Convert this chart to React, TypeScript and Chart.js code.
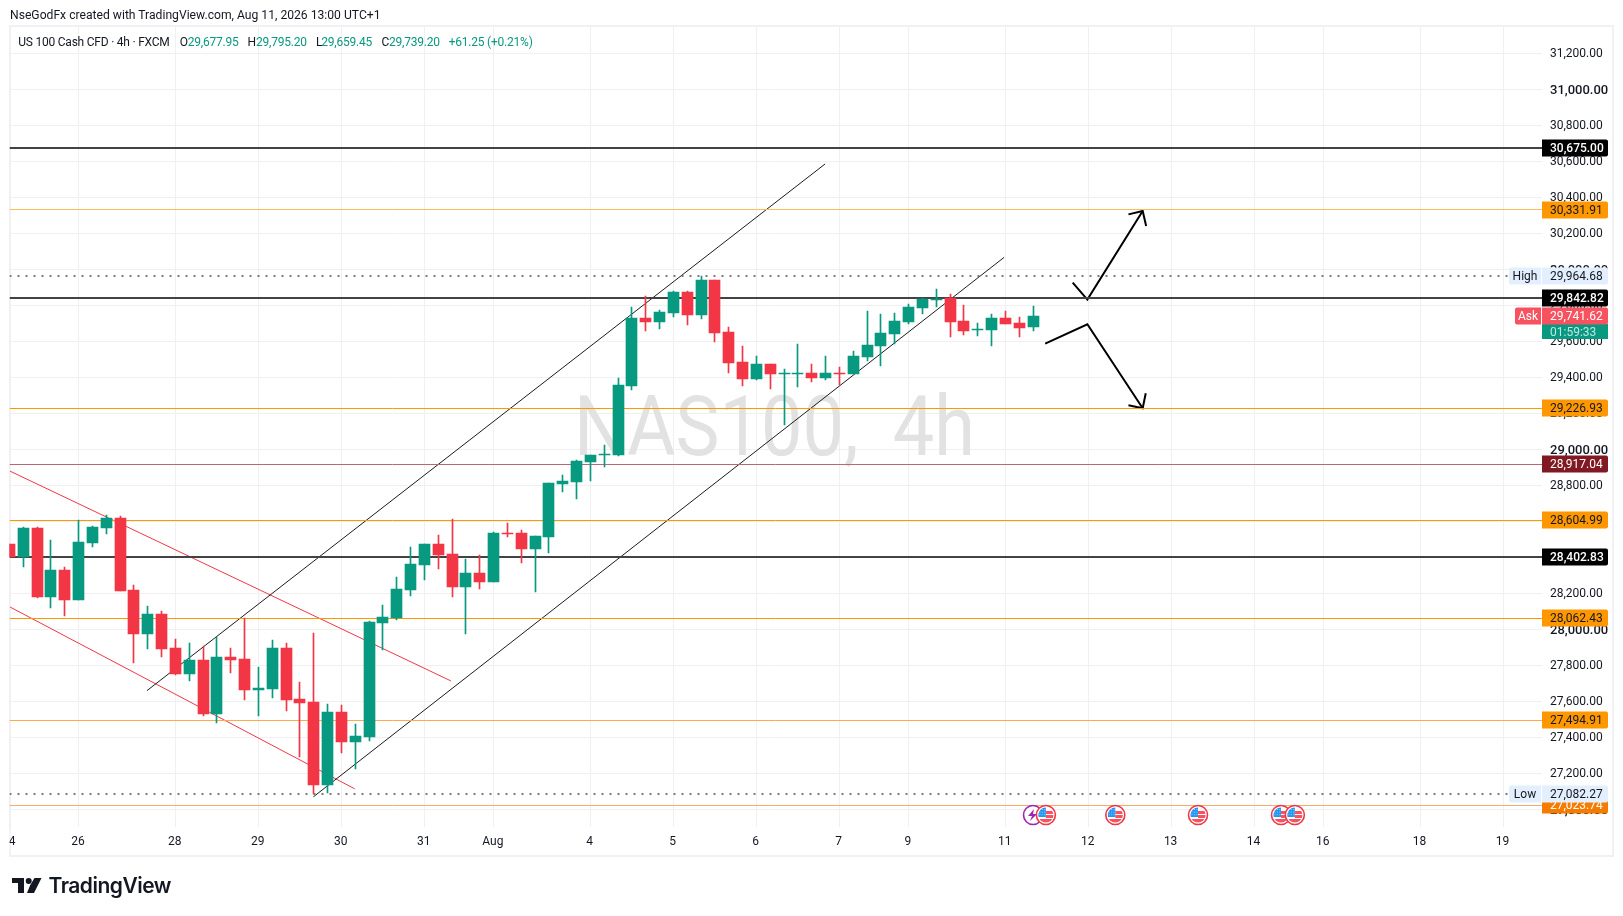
import React, { useEffect, useRef } from "react";
import { Chart, registerables } from "chart.js";

Chart.register(...registerables);

const opens = [28473,28401.3,28562,28179,28329,28163,28479,28562,28618,28218.2,27974,28085,27896.2,27752,27830,27530,27846,27835.2,27663,27668.7,27896,27613.1,27596.5,27136,27541,27374.5,27402.2,28035,28062.7,28218.1,28356.9,28473.4,28418,28234.8,28312.4,28262.5,28534.5,28534.5,28445.7,28512.3,28806.4,28817.5,28928.6,28967.4,28967.4,29350.4,29727.8,29705.6,29755.6,29872,29744.5,29938.7,29650.1,29483.6,29389.2,29472.5,29417,29417,29422.5,29394.8,29422.5,29417,29511.4,29572.4,29639,29705.6,29783.3,29827.7,29838.8,29711.2,29661.2,29661.2,29727.8,29700,29677.95];
const highs = [28473,28567.8,28568,28495.7,28345.8,28606.7,28573.4,28634.4,28628.9,28245.9,28129.4,28101.6,27946,27924,27907.3,27957.3,27896.2,28062.8,27790.8,27940.6,27924,27707.5,27979.4,27585.4,27579.8,27474.4,28046,28134.8,28290.3,28456.8,28473.4,28523.4,28612.2,28390.2,28412.4,28540,28590,28551.2,28517.8,28812,28856.4,28939.7,28967.4,29023,29394.8,29788.9,29849.9,29772.2,29877.7,29877.7,29964.68,29938.7,29677.9,29572.4,29516.9,29472.5,29444.7,29583.5,29472.5,29516.9,29455.8,29544.7,29766.7,29750,29755.6,29805.5,29838.8,29888.8,29861,29800,29700,29750,29766.7,29733.4,29795.2];
const lows = [28401,28345.8,28173.8,28118.3,28073.9,28163,28456.8,28529,28213,27813,27890.7,27846.3,27746.4,27713,27518.8,27480,27757.5,27607.6,27518.8,27618.7,27546.6,27291.2,27082.27,27091.4,27313.4,27224.6,27380,27885.1,28051.6,28184.8,28273.6,28334.7,28179.3,27972,28223.7,28262.5,28512.3,28367.9,28207,28423.5,28762,28723.2,28823.1,28900.8,28961.9,29328.2,29655.7,29666.8,29733.4,29689,29722.3,29594.6,29422.5,29350.4,29383.7,29333.7,29133.9,29344.8,29372.6,29383.7,29355.9,29417,29489.2,29461.4,29583.5,29694.5,29750,29788.9,29622.4,29633.5,29627.9,29572.4,29694.5,29622.4,29659.45];
const closes = [28401,28562.3,28179.3,28329.2,28162.7,28484.6,28567.8,28617.8,28212.6,27974,28085,27891,27752,27829.6,27530,27846.3,27830,27663.1,27674.2,27896.2,27607.6,27590.9,27135.8,27540.9,27374.5,27407.8,28040.5,28068.2,28223.7,28362.4,28473.4,28412.4,28234.8,28312.4,28262.5,28534.5,28529,28445.7,28517.8,28812,28823.1,28934.1,28967.4,28973,29355.9,29727.8,29705.6,29761.1,29872.1,29744.5,29938.7,29644.6,29478,29389.2,29472.5,29417,29422.5,29422.5,29394.8,29422.5,29417,29516.9,29578,29644.6,29711.2,29788.9,29833.3,29833.3,29705.6,29655.7,29666.8,29727.8,29694.5,29672.3,29739.2];

const dateLabels = ["24","26","28","29","30","31","Aug","4","5","6","7","9","11","12","13","14","16","18","19"];
const dateBars = [0,5,12,18,24,30,35,42,48,54,60,65,72,78,84,90,95,102,108];

const priceTicks = [27000,27200,27400,27600,27800,28000,28200,28400,28600,28800,29000,29200,29400,29600,29800,30000,30200,30400,30600,30800,31000,31200];

const blackLevels = [30675, 29842.82, 28402.83];
const orangeLevels = [29226.93, 28604.99, 28062.43];
const paleOrangeLevels = [30331.91];
const softOrangeLevels = [27494.91];
const deepOrangeLevels = [27023.74];
const maroonLevels = [28917.04];
const highLevel = 29964.68;
const lowLevel = 27082.27;
const askPrice = 29741.62;
const countdown = "01:59:33";

const channelUpperA = [[9.94, 27659.2], [58.97, 30585.4]];
const channelLowerA = [[21.97, 27069.2], [71.91, 30066.4]];
const wedgeUpper = [[0.04, 28878.6], [31.92, 27713]];
const wedgeLower = [[0.04, 28123.8], [24.96, 27113.6]];

const arrowUp = [[76.87, 29925.8], [77.93, 29831.5], [81.93, 30323.6]];
const arrowUpHead = [[80.9, 30305.1], [81.93, 30323.6], [82.18, 30240.3]];
const arrowDown = [[74.88, 29587.3], [77.93, 29694.5], [81.93, 29228.4]];
const arrowDownHead = [[80.9, 29245], [81.93, 29228.4], [82.15, 29311.6]];

const flagEventBars = [74.93, 79.95, 85.93, 91.93, 92.93];
const lightningEventBars = [74];

const xMin = 0;
const xMax = 110.8;
const yMin = 26901.7;
const yMax = 31346.1;

const UP = "#089981";
const DOWN = "#f23645";
const FONT = "Roboto, 'Open Sans', sans-serif";

const pts = (a: number[][]) => a.map(([x, y]) => ({ x, y }));
const hline = (v: number) => [{ x: xMin, y: v }, { x: xMax, y: v }];

function lineDs(data: any[], color: string, width: number, dash: number[] = [], snap = false) {
  return {
    type: "line" as const,
    data,
    borderColor: color,
    backgroundColor: color,
    borderWidth: width,
    borderDash: dash,
    borderCapStyle: "butt",
    pointRadius: 0,
    tension: 0,
    fill: false,
    order: 5,
    snap,
  };
}

function priceLabel(ctx: any, y: number, text: string, bg: string, fg: string, weight = 400) {
  ctx.fillStyle = bg;
  ctx.beginPath();
  ctx.roundRect(1542, Math.round(y) - 8.5, 66, 17, [0, 2, 2, 0]);
  ctx.fill();
  ctx.fillStyle = fg;
  ctx.font = `${weight} 12px ${FONT}`;
  ctx.textAlign = "left";
  ctx.textBaseline = "middle";
  ctx.fillText(text, 1550, Math.round(y) + 1);
}

function tagLabel(ctx: any, y: number, x: number, text: string, bg: string, fg: string) {
  ctx.fillStyle = bg;
  ctx.beginPath();
  ctx.roundRect(x, Math.round(y) - 8.5, 1541 - x, 17, [2, 0, 0, 2]);
  ctx.fill();
  ctx.fillStyle = fg;
  ctx.font = `400 12px ${FONT}`;
  ctx.textAlign = "center";
  ctx.textBaseline = "middle";
  ctx.fillText(text, (x + 1541) / 2, Math.round(y) + 1);
}

const fmt = (v: number) => v.toLocaleString("en-US", { minimumFractionDigits: 2, maximumFractionDigits: 2 });

function drawFlag(ctx: any, cx: number, cy: number) {
  ctx.save();
  ctx.beginPath();
  ctx.arc(cx, cy, 9.5, 0, Math.PI * 2);
  ctx.fillStyle = "#ffffff";
  ctx.fill();
  ctx.lineWidth = 1.6;
  ctx.strokeStyle = DOWN;
  ctx.stroke();
  ctx.beginPath();
  ctx.arc(cx, cy, 7.6, 0, Math.PI * 2);
  ctx.clip();
  ctx.fillStyle = "#f7525f";
  ctx.fillRect(cx, cy - 4, 9, 3);
  ctx.fillRect(cx, cy + 0, 9, 3);
  ctx.fillRect(cx - 9, cy + 4, 18, 5);
  ctx.fillStyle = "#2196f3";
  ctx.fillRect(cx - 8, cy - 8, 8, 10);
  ctx.fillStyle = "rgba(255,255,255,0.55)";
  for (let i = 0; i < 3; i++) {
    for (let j = 0; j < 3; j++) {
      ctx.fillRect(cx - 6.5 + i * 2.4, cy - 6 + j * 2.6, 1, 1);
    }
  }
  ctx.restore();
}

function drawLightning(ctx: any, cx: number, cy: number) {
  ctx.save();
  ctx.beginPath();
  ctx.arc(cx, cy, 9.5, 0, Math.PI * 2);
  ctx.fillStyle = "#ffffff";
  ctx.fill();
  ctx.lineWidth = 1.6;
  ctx.strokeStyle = "#9c27b0";
  ctx.stroke();
  ctx.fillStyle = "#9c27b0";
  ctx.beginPath();
  ctx.moveTo(cx + 1, cy - 6);
  ctx.lineTo(cx - 5, cy + 1);
  ctx.lineTo(cx - 1, cy + 1);
  ctx.lineTo(cx - 3, cy + 6);
  ctx.lineTo(cx + 4, cy - 1);
  ctx.lineTo(cx, cy - 1);
  ctx.closePath();
  ctx.fill();
  ctx.restore();
}

const chrome = {
  id: "chrome",
  afterDatasetsUpdate(chart: any) {
    chart.data.datasets.forEach((ds: any, n: number) => {
      const meta = chart.getDatasetMeta(n);
      if (meta.type === "bar") {
        meta.data.forEach((el: any) => {
          el.x = Math.floor(el.x) + 0.5;
          const a = Math.round(el.y);
          let b = Math.round(el.base);
          if (a === b) b = a + 1;
          el.y = a;
          el.base = b;
          el.height = b - a;
        });
      } else if (ds.snap) {
        const odd = ds.borderWidth % 2 === 1;
        meta.data.forEach((el: any) => {
          el.y = odd ? Math.floor(el.y) + 0.5 : Math.round(el.y);
        });
      }
    });
  },
  beforeDraw(chart: any) {
    const { ctx } = chart;
    ctx.save();
    ctx.fillStyle = "#ffffff";
    ctx.fillRect(0, 0, 1623, 916);
    ctx.strokeStyle = "#f1f1f3";
    ctx.lineWidth = 2;
    ctx.strokeRect(10, 26, 1603, 830);
    ctx.restore();
  },
  beforeDatasetsDraw(chart: any) {
    const { ctx } = chart;
    ctx.save();
    ctx.fillStyle = "#e2e2e2";
    ctx.font = `400 83px ${FONT}`;
    ctx.textAlign = "left";
    ctx.textBaseline = "alphabetic";
    ctx.wordSpacing = "18px";
    const t = "NAS100, 4h";
    const w = ctx.measureText(t).width;
    ctx.translate(574, 455);
    ctx.scale(401 / w, 1);
    ctx.fillText(t, 0, 0);
    ctx.restore();
  },
  afterDraw(chart: any) {
    const { ctx, scales } = chart;
    const y = scales.y;
    const x = scales.x;
    ctx.save();
    ctx.fillStyle = "#ffffff";
    ctx.fillRect(0, 830, 9.5, 22);

    paleOrangeLevels.forEach((v) => priceLabel(ctx, y.getPixelForValue(v), fmt(v), "#ff9800", "#131722"));
    orangeLevels.forEach((v) => priceLabel(ctx, y.getPixelForValue(v), fmt(v), "#ff9800", "#131722"));
    softOrangeLevels.forEach((v) => priceLabel(ctx, y.getPixelForValue(v), fmt(v), "#ff9800", "#131722"));
    maroonLevels.forEach((v) => priceLabel(ctx, y.getPixelForValue(v), fmt(v), "#801922", "#ffffff"));
    deepOrangeLevels.forEach((v) => priceLabel(ctx, y.getPixelForValue(v), fmt(v), "#f57c00", "#ffffff"));
    blackLevels.forEach((v) => priceLabel(ctx, y.getPixelForValue(v), fmt(v), "#000000", "#ffffff", 500));

    const hy = y.getPixelForValue(highLevel);
    tagLabel(ctx, hy, 1509, "High", "#e3effd", "#131722");
    priceLabel(ctx, hy, fmt(highLevel), "#e3effd", "#131722");
    const ly = y.getPixelForValue(lowLevel);
    tagLabel(ctx, ly, 1509, "Low", "#e3effd", "#131722");
    priceLabel(ctx, ly, fmt(lowLevel), "#e3effd", "#131722");

    const ay = y.getPixelForValue(askPrice);
    ctx.fillStyle = UP;
    ctx.fillRect(1542, Math.round(ay) + 8, 66, 15);
    ctx.fillStyle = "rgba(255,255,255,0.75)";
    ctx.font = `400 12px ${FONT}`;
    ctx.textAlign = "left";
    ctx.textBaseline = "middle";
    ctx.fillText(countdown, 1550, Math.round(ay) + 16.5);
    tagLabel(ctx, ay, 1515, "Ask", "#f7525f", "#ffffff");
    priceLabel(ctx, ay, fmt(askPrice), "#f7525f", "#ffffff");

    lightningEventBars.forEach((b) => drawLightning(ctx, x.getPixelForValue(b), 815));
    flagEventBars.forEach((b) => drawFlag(ctx, x.getPixelForValue(b), 815));
    ctx.restore();
  },
};

const textStyle: React.CSSProperties = {
  position: "absolute",
  fontFamily: FONT,
  whiteSpace: "nowrap",
  lineHeight: "16px",
  color: "#131722",
};

const legendParts: [string, number, string][] = [
  ["US 100 Cash CFD · 4h · FXCM", 18.2, "#131722"],
  ["O", 179.8, "#131722"],
  ["29,677.95", 187.7, UP],
  ["H", 247.6, "#131722"],
  ["29,795.20", 256, UP],
  ["L", 316, "#131722"],
  ["29,659.45", 321.3, UP],
  ["C", 381.5, "#131722"],
  ["29,739.20", 389, UP],
  ["+61.25 (+0.21%)", 448.7, UP],
];

export default function App() {
  const ref = useRef<HTMLCanvasElement | null>(null);

  useEffect(() => {
    document.body.style.margin = "0";
    document.body.style.background = "#ffffff";
    const idx = opens.map((_, i) => i);
    const colors = idx.map((i) => (closes[i] >= opens[i] ? UP : DOWN));

    const chart = new Chart(ref.current as HTMLCanvasElement, {
      type: "bar",
      plugins: [chrome],
      data: {
        datasets: [
          {
            data: idx.map((i) => ({ x: i, y: [opens[i], closes[i]] })),
            backgroundColor: colors,
            barThickness: 11,
            minBarLength: 1,
            grouped: false,
            order: 1,
          },
          {
            data: idx.map((i) => ({ x: i, y: [lows[i], highs[i]] })),
            backgroundColor: colors,
            barThickness: 1,
            grouped: false,
            order: 2,
          },
          ...blackLevels.map((v) => lineDs(hline(v), "#434343", 2, [], true)),
          ...orangeLevels.map((v) => lineDs(hline(v), "#ff9800", 1, [], true)),
          ...paleOrangeLevels.map((v) => lineDs(hline(v), "#ffbb5c", 1, [], true)),
          ...softOrangeLevels.map((v) => lineDs(hline(v), "#ffa94d", 1, [], true)),
          ...deepOrangeLevels.map((v) => lineDs(hline(v), "#f7ab6e", 1, [], true)),
          ...maroonLevels.map((v) => lineDs(hline(v), "#b96770", 1, [], true)),
          lineDs(hline(highLevel), "#7a7a7a", 2, [2, 6], true),
          lineDs(hline(lowLevel), "#7a7a7a", 2, [2, 6], true),
          lineDs(pts(channelUpperA), "#1c1c1c", 1),
          lineDs(pts(channelLowerA), "#1c1c1c", 1),
          lineDs(pts(wedgeUpper), "#f23645", 1),
          lineDs(pts(wedgeLower), "#f23645", 1),
          lineDs(pts(arrowUp), "#000000", 2),
          lineDs(pts(arrowUpHead), "#000000", 2),
          lineDs(pts(arrowDown), "#000000", 2),
          lineDs(pts(arrowDownHead), "#000000", 2),
        ] as any,
      },
      options: {
        responsive: false,
        animation: false,
        devicePixelRatio: 1,
        layout: { padding: { left: 9.5, top: 27, right: 0, bottom: 0 } },
        plugins: { legend: { display: false }, tooltip: { enabled: false }, title: { display: false } },
        scales: {
          x: {
            type: "linear",
            offset: false,
            min: xMin,
            max: xMax,
            afterBuildTicks: (s: any) => {
              s.ticks = dateBars.map((value) => ({ value }));
            },
            afterFit: (s: any) => {
              s.height = 89;
              s.paddingLeft = 0;
              s.paddingRight = 0;
            },
            grid: { color: "#f0f0f3", lineWidth: 1, drawTicks: false, offset: false },
            border: { display: false },
            ticks: {
              autoSkip: false,
              maxRotation: 0,
              minRotation: 0,
              padding: 8,
              labelOffset: -0.7,
              color: "#131722",
              font: { family: FONT, size: 12 },
              callback: (v: any) => dateLabels[dateBars.indexOf(Number(v))] ?? "",
            },
          },
          y: {
            type: "linear",
            position: "right",
            min: yMin,
            max: yMax,
            afterBuildTicks: (s: any) => {
              s.ticks = priceTicks.map((value) => ({ value }));
            },
            afterFit: (s: any) => {
              s.width = 81;
              s.paddingTop = 0;
              s.paddingBottom = 0;
            },
            grid: { color: "#f0f0f3", lineWidth: 1, drawTicks: false },
            border: { display: false },
            ticks: {
              autoSkip: false,
              padding: 8,
              labelOffset: 1,
              color: "#131722",
              font: (c: any) =>
                c.tick && c.tick.value % 1000 === 0
                  ? { family: FONT, size: 13, weight: "500" }
                  : { family: FONT, size: 12, weight: "400" },
              callback: (v: any) => fmt(Number(v)),
            },
          },
        },
      },
    } as any);
    return () => chart.destroy();
  }, []);

  return (
    <div style={{ position: "absolute", left: 0, top: 0, width: 1623, height: 916, overflow: "hidden", background: "#fff" }}>
      <canvas ref={ref} width={1623} height={916} style={{ position: "absolute", left: 0, top: 0, display: "block" }} />
      <div style={{ ...textStyle, left: 10, top: 7, fontSize: 12.15 }}>
        NseGodFx created with TradingView.com, Aug 11, 2026 13:00 UTC+1
      </div>
      {legendParts.map(([t, left, color]) => (
        <div key={t + left} style={{ ...textStyle, left, top: 34, fontSize: 12, letterSpacing: "-0.22px", color }}>
          {t}
        </div>
      ))}
      <svg width={34} height={18} viewBox="0 0 34 18" style={{ position: "absolute", left: 11, top: 877 }}>
        <path d="M1 1h12v15H7V6H1z M19 8.6l-3 7.4h7l7.5-15h-7z" fill="#131722" />
        <circle cx={17.7} cy={4} r={3} fill="#131722" />
      </svg>
      <div style={{ ...textStyle, left: 48.5, top: 873, fontFamily: "Inter, Roboto, sans-serif", fontWeight: 600, fontSize: 21, lineHeight: "26px", letterSpacing: "-0.5px" }}>
        TradingView
      </div>
    </div>
  );
}
